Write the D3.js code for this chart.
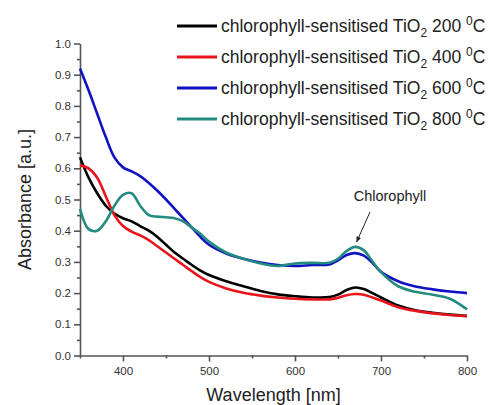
<!DOCTYPE html>
<html>
<head>
<meta charset="utf-8">
<script src="https://cdnjs.cloudflare.com/ajax/libs/d3/7.8.5/d3.min.js"></script>
<style>
  body { margin: 0; background: #fff; }
  svg { font-family: "Liberation Sans", Arial, sans-serif; }
</style>
</head>
<body>
<div id="chart"></div>
<script>
// Data
var wavelength = [350, 360, 370, 380, 390, 400, 410, 420, 430, 440, 450, 460, 470, 480, 490, 500,
    520, 540, 560, 580, 600, 620, 640, 650, 660, 670, 680, 690, 700, 720, 740, 760, 780, 800];

var abs200 = [0.635, 0.57, 0.52, 0.48, 0.455, 0.44, 0.43, 0.415, 0.40, 0.38, 0.355, 0.33, 0.31, 0.29, 0.272, 0.258,
    0.238, 0.222, 0.207, 0.196, 0.19, 0.186, 0.187, 0.195, 0.21, 0.218, 0.213, 0.2, 0.186, 0.16, 0.145, 0.137, 0.131, 0.127];
var abs400 = [0.61, 0.6, 0.57, 0.51, 0.45, 0.415, 0.397, 0.385, 0.37, 0.35, 0.33, 0.31, 0.29, 0.27, 0.251, 0.236,
    0.215, 0.201, 0.192, 0.186, 0.182, 0.18, 0.18, 0.185, 0.193, 0.197, 0.195, 0.186, 0.176, 0.155, 0.143, 0.135, 0.13, 0.126];
var abs600 = [0.92, 0.85, 0.775, 0.70, 0.635, 0.603, 0.59, 0.575, 0.553, 0.528, 0.50, 0.47, 0.44, 0.41, 0.38, 0.355,
    0.327, 0.31, 0.298, 0.29, 0.287, 0.29, 0.292, 0.305, 0.322, 0.328, 0.32, 0.297, 0.268, 0.238, 0.221, 0.212, 0.205, 0.2];
var abs800 = [0.47, 0.405, 0.40, 0.43, 0.48, 0.515, 0.52, 0.48, 0.45, 0.445, 0.443, 0.44, 0.43, 0.41, 0.39, 0.365,
    0.33, 0.31, 0.295, 0.287, 0.295, 0.297, 0.297, 0.31, 0.335, 0.348, 0.337, 0.302, 0.267, 0.222, 0.204, 0.195, 0.182, 0.148];

var temps = ["200", "400", "600", "800"];
var colors = ["#000000", "#e8161c", "#1111c4", "#238b80"];
var series = [abs200, abs400, abs600, abs800];

var xTicks = [400, 500, 600, 700, 800];
var xMinor = [350, 450, 550, 650, 750];
var yTicks = [0, 0.1, 0.2, 0.3, 0.4, 0.5, 0.6, 0.7, 0.8, 0.9, 1.0];
var yMinor = [0.05, 0.15, 0.25, 0.35, 0.45, 0.55, 0.65, 0.75, 0.85, 0.95];

// Size and plot area
var width = 490;
var height = 405;
var plotLeft = 80, plotRight = 467, plotTop = 43.5, plotBottom = 355.5;

var svg = d3.select("#chart")
    .append("svg")
    .attr("width", width)
    .attr("height", height);

var x = d3.scaleLinear().domain([350, 800]).range([plotLeft, plotRight]);
var y = d3.scaleLinear().domain([0, 1]).range([plotBottom, plotTop]);

var axisColor = "#555";
var labelColor = "#333";

// X axis with major and minor ticks
var xAxis = svg.append("g")
    .attr("transform", `translate(0, ${plotBottom})`)
    .call(d3.axisBottom(x).tickValues(xTicks).tickSize(6).tickPadding(5).tickSizeOuter(0).tickFormat(d3.format("d")));
xAxis.append("g")
    .call(d3.axisBottom(x).tickValues(xMinor).tickSize(3).tickFormat(""))
    .select(".domain").remove();

// Y axis with major and minor ticks
var yAxis = svg.append("g")
    .attr("transform", `translate(${plotLeft}, 0)`)
    .call(d3.axisLeft(y).tickValues(yTicks).tickSize(6).tickPadding(3).tickSizeOuter(0).tickFormat(d3.format(".1f")));
yAxis.append("g")
    .call(d3.axisLeft(y).tickValues(yMinor).tickSize(3).tickFormat(""))
    .select(".domain").remove();

svg.selectAll(".domain, .tick line")
    .attr("stroke", axisColor)
    .attr("stroke-width", 1.6);
svg.selectAll(".tick text")
    .attr("fill", labelColor)
    .style("font-size", "11.5px");

// Axis titles
svg.append("text")
    .attr("x", (plotLeft + plotRight) / 2)
    .attr("y", 401)
    .attr("text-anchor", "middle")
    .attr("fill", "#222")
    .style("font-size", "18px")
    .text("Wavelength [nm]");

svg.append("text")
    .attr("transform", `translate(31, ${(plotTop + plotBottom) / 2}) rotate(-90)`)
    .attr("text-anchor", "middle")
    .attr("fill", "#222")
    .style("font-size", "18px")
    .text("Absorbance [a.u.]");

// Spectra
var line = d3.line()
    .x(function(d, i) { return x(wavelength[i]); })
    .y(function(d) { return y(d); })
    .curve(d3.curveCatmullRom.alpha(0.5));

series.forEach(function(s, i) {
    svg.append("path")
        .datum(s)
        .attr("fill", "none")
        .attr("stroke", colors[i])
        .attr("stroke-width", 2.6)
        .attr("d", line);
});

// Chlorophyll annotation with arrow
svg.append("defs").append("marker")
    .attr("id", "arrow")
    .attr("viewBox", "0 0 10 10")
    .attr("refX", 9).attr("refY", 5)
    .attr("markerWidth", 6).attr("markerHeight", 6)
    .attr("orient", "auto")
    .append("path")
    .attr("d", "M0,1 L10,5 L0,9 Z")
    .attr("fill", "#222");

svg.append("text")
    .attr("x", 390)
    .attr("y", 201)
    .attr("text-anchor", "middle")
    .attr("fill", "#222")
    .style("font-size", "14.5px")
    .text("Chlorophyll");

svg.append("line")
    .attr("x1", 370).attr("y1", 212)
    .attr("x2", x(667) + 4).attr("y2", y(0.348) - 5)
    .attr("stroke", "#222")
    .attr("stroke-width", 1)
    .attr("marker-end", "url(#arrow)");

// Legend
var legend = svg.append("g");
temps.forEach(function(t, i) {
    var ly = 26 + i * 31;
    legend.append("line")
        .attr("x1", 177).attr("x2", 217)
        .attr("y1", ly).attr("y2", ly)
        .attr("stroke", colors[i])
        .attr("stroke-width", 3);
    var txt = legend.append("text")
        .attr("x", 221)
        .attr("y", ly + 6)
        .attr("fill", "#222")
        .style("font-size", "17.5px");
    txt.append("tspan").text("chlorophyll-sensitised TiO");
    txt.append("tspan").attr("dy", 5).style("font-size", "12px").text("2");
    txt.append("tspan").attr("dy", -5).text(" " + t + " ");
    txt.append("tspan").attr("dy", -7).style("font-size", "12px").text("0");
    txt.append("tspan").attr("dy", 7).text("C");
});
</script>
</body>
</html>
